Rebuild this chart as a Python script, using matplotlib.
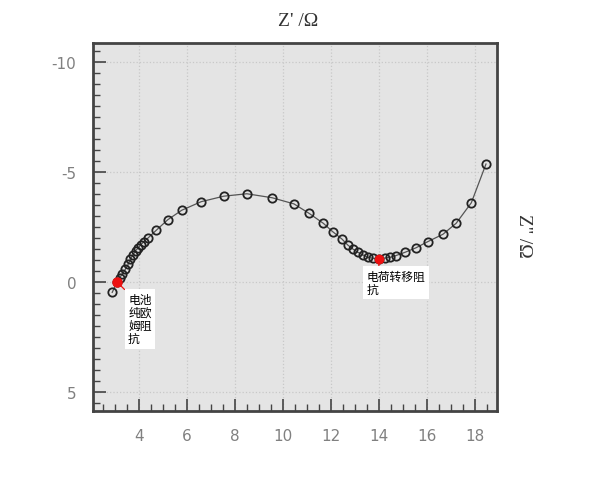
import matplotlib
matplotlib.use("Agg")
import matplotlib.pyplot as plt
from matplotlib.ticker import MultipleLocator

plt.rcParams['font.family'] = ['DejaVu Sans', 'Noto Sans CJK SC']
plt.rcParams['axes.unicode_minus'] = False

# Nyquist data (Z' , Z'')
z_real = [2.90, 3.10, 3.22, 3.32, 3.45, 3.56, 3.66, 3.77, 3.87, 3.98, 4.08, 4.22,
          4.39, 4.74, 5.21, 5.79, 6.60, 7.54, 8.50, 9.55, 10.46, 11.09, 11.68,
          12.07, 12.46, 12.70, 12.91, 13.12, 13.33, 13.54, 13.75, 14.00, 14.24,
          14.45, 14.70, 15.08, 15.53, 16.02, 16.66, 17.21, 17.84, 18.45]
z_imag = [0.47, 0.00, -0.20, -0.38, -0.59, -0.80, -1.05, -1.24, -1.42, -1.55, -1.68, -1.84,
          -2.00, -2.36, -2.83, -3.26, -3.65, -3.90, -4.01, -3.83, -3.55, -3.12, -2.67,
          -2.29, -1.95, -1.68, -1.50, -1.35, -1.23, -1.12, -1.08, -1.06, -1.09,
          -1.12, -1.20, -1.35, -1.55, -1.83, -2.17, -2.67, -3.60, -5.36]

ohmic_pt = (3.10, 0.00)
ct_pt = (14.00, -1.06)
ohmic_label = "电池\n纯欧\n姆阻\n抗"
ct_label = "电荷转移阻\n抗"

xticks = [4, 6, 8, 10, 12, 14, 16, 18]
yticks = [-10, -5, 0, 5]

fig = plt.figure(figsize=(6.0, 4.81), dpi=100)
ax = fig.add_axes([0.155, 0.1435, 0.673, 0.765])
ax.set_facecolor('#e4e4e4')

ax.plot(z_real, z_imag, '-', color='#555555', lw=0.9, zorder=2)
ax.plot(z_real, z_imag, 'o', mfc='none', mec='#222222', ms=6, mew=1.3, zorder=3)
ax.plot(*ohmic_pt, 'o', color='#ee1111', ms=6.5, zorder=4)
ax.plot(*ct_pt, 'o', color='#ee1111', ms=6, zorder=4)

box = dict(boxstyle='square,pad=0.3', fc='white', ec='none')
ax.annotate(ohmic_label, xy=ohmic_pt, xytext=(3.56, 0.5), ha='left', va='top',
            fontsize=8.5, family=['Noto Sans CJK SC'], linespacing=1.0, bbox=box,
            arrowprops=dict(arrowstyle='-', color='#ee1111', lw=0.9, relpos=(0, 1),
                            shrinkA=0, shrinkB=0), zorder=5)
ax.annotate(ct_label, xy=ct_pt, xytext=(13.5, -0.55), ha='left', va='top',
            fontsize=8.5, family=['Noto Sans CJK SC'], linespacing=1.0, bbox=box,
            arrowprops=dict(arrowstyle='-', color='#ee1111', lw=0.9, relpos=(0.2, 1),
                            shrinkA=0, shrinkB=0), zorder=5)

ax.set_xlim(2.1, 18.9)
ax.set_ylim(5.86, -10.86)
ax.set_xticks(xticks)
ax.set_yticks(yticks)
ax.xaxis.set_minor_locator(MultipleLocator(0.5))
ax.yaxis.set_minor_locator(MultipleLocator(0.5))
ax.tick_params(which='both', direction='in', top=False, right=False, color='#444444')
ax.tick_params(which='major', length=9, width=1.2, labelsize=11, labelcolor='#808080', pad=12)
ax.tick_params(which='minor', length=5, width=1.0)
ax.grid(True, which='major', color='#c8c8c8', ls=':', lw=0.9)
ax.set_axisbelow(True)
for sp in ax.spines.values():
    sp.set_color('#444444')
    sp.set_linewidth(2)

fig.text(0.497, 1 - 22 / 481, "Z' /Ω", ha='center', va='center', fontsize=14,
         color='#333333', family='Liberation Serif')
fig.text(0.873, 1 - 236 / 481, "Z'' /Ω", ha='center', va='center', fontsize=14,
         rotation=-90, color='#333333', family='Liberation Serif')

fig.savefig('out.png', dpi=100)
